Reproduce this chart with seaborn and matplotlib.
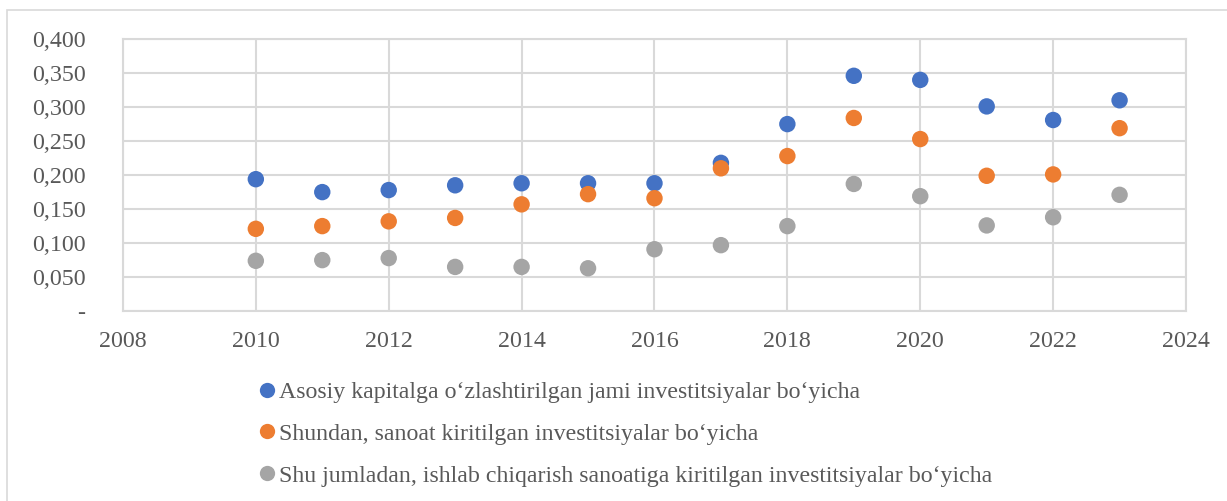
import matplotlib.pyplot as plt
import matplotlib.patches as mpatches
import matplotlib.ticker as mticker
import seaborn as sns
import pandas as pd

years = list(range(2010, 2024))
total_inv = [0.194, 0.175, 0.178, 0.185, 0.188, 0.188, 0.188, 0.218, 0.275, 0.346, 0.340, 0.301, 0.281, 0.310]
industry_inv = [0.121, 0.125, 0.132, 0.137, 0.157, 0.172, 0.166, 0.210, 0.228, 0.284, 0.253, 0.199, 0.201, 0.269]
manuf_inv = [0.074, 0.075, 0.078, 0.065, 0.065, 0.063, 0.091, 0.097, 0.125, 0.187, 0.169, 0.126, 0.138, 0.171]

labels = [
    "Asosiy kapitalga o\u2018zlashtirilgan jami investitsiyalar bo\u2018yicha",
    "Shundan, sanoat kiritilgan investitsiyalar bo\u2018yicha",
    "Shu jumladan, ishlab chiqarish sanoatiga kiritilgan investitsiyalar bo\u2018yicha",
]
colors = ["#4472C4", "#ED7D31", "#A5A5A5"]

df = pd.concat([
    pd.DataFrame({"year": years, "value": vals, "series": lab})
    for vals, lab in zip([total_inv, industry_inv, manuf_inv], labels)
])

sns.set_style("white")
plt.rcParams["font.family"] = ["Liberation Serif", "DejaVu Serif"]
text_col = "#595959"
grid_col = "#D9D9D9"

fig = plt.figure(figsize=(12.27, 5.01), dpi=100)
ax = fig.add_axes([0.1002, 0.379, 0.8664, 0.543])

sns.scatterplot(data=df, x="year", y="value", hue="series", palette=colors,
                s=140, edgecolor="none", ax=ax, legend=False, zorder=3)

ax.set_xlim(2008, 2024)
ax.set_ylim(0, 0.4)
ax.xaxis.set_major_locator(mticker.MultipleLocator(2))
ax.yaxis.set_major_locator(mticker.MultipleLocator(0.05))

def yfmt(v, pos):
    if abs(v) < 1e-9:
        return "-"
    return f"{v:.3f}".replace(".", ",")

ax.yaxis.set_major_formatter(mticker.FuncFormatter(yfmt))
ax.grid(True, color=grid_col, linewidth=1.5)
ax.set_axisbelow(True)
for sp in ax.spines.values():
    sp.set_color(grid_col)
    sp.set_linewidth(1.5)
ax.tick_params(axis="both", length=0, labelsize=17.3, colors=text_col)
ax.tick_params(axis="y", pad=27)
ax.tick_params(axis="x", pad=14.5)
ax.set_xlabel("")
ax.set_ylabel("")

handles = [plt.Line2D([], [], marker="o", linestyle="none", markersize=11,
                      markerfacecolor=c, markeredgecolor="none") for c in colors]
fig.legend(handles, labels, loc="upper left", bbox_to_anchor=(0.2, 0.258),
           frameon=False, fontsize=17.2, labelcolor=text_col, handletextpad=0.0,
           handlelength=1.0, labelspacing=0.84, borderaxespad=0)

fig.patches.append(mpatches.Rectangle((7 / 1227, -0.05), 1.0, 1 - 10 / 501 + 0.05,
                                      transform=fig.transFigure, fill=False,
                                      edgecolor=grid_col, linewidth=1.2))

fig.savefig("out.png", dpi=100)
